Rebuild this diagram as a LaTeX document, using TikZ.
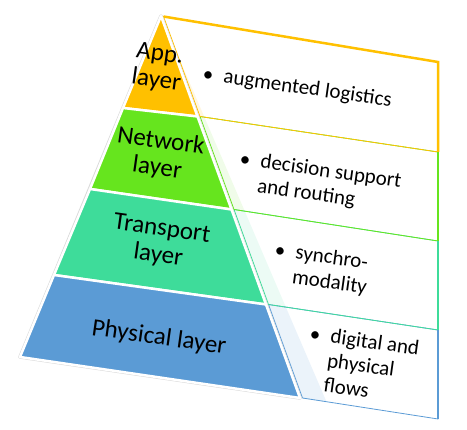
\documentclass[tikz,border=0pt]{standalone}
\usepackage{fontspec}
\setmainfont{Carlito}
\definecolor{appcol}{HTML}{FFC000}
\definecolor{netcol}{HTML}{66E51E}
\definecolor{trncol}{HTML}{3EDC9A}
\definecolor{phycol}{HTML}{5B9BD5}

\begin{document}
\begin{tikzpicture}[x=1pt,y=-1pt]
        \tikzstyle{layer} = [draw=white, line width=2.5pt, line join=round]
        \tikzstyle{box} = [line width=0.8pt, line join=round]
        \tikzstyle{edge} = [line width=2.5pt]
        \tikzstyle{lbl} = [rotate=-8, align=center, inner sep=0pt, font=\fontsize{25}{27}\selectfont]
        \tikzstyle{item} = [rotate=-8, anchor=base west, inner sep=0pt, font=\fontsize{21}{24.5}\selectfont]

        \useasboundingbox (0,0) rectangle (467,430);

        % side face of the pyramid
        \fill[appcol!12] (161,16) -- (197.5,116.5) -- (204.6,117.5) -- cycle;
        \fill[netcol!10] (197.5,116.5) -- (231.5,209.5) -- (244.9,211.5) -- (204.6,117.5) -- cycle;
        \fill[trncol!10] (231.5,209.5) -- (266,304.5) -- (286,307.5) -- (244.9,211.5) -- cycle;
        \fill[phycol!12] (266,304.5) -- (300,398) -- (326.6,402) -- (286,307.5) -- cycle;

        % text boxes
        \draw[box, draw=phycol] (268.5,304.5) -- (438,330) -- (438,419) -- (302.5,398) -- cycle;
        \draw[box, draw=trncol] (234,209.5) -- (438,241) -- (438,330) -- (268.5,304.5) -- cycle;
        \draw[box, draw=netcol] (200,116.5) -- (438,152) -- (438,241) -- (234,209.5) -- cycle;
        \draw[box, draw=appcol] (163.5,16.5) -- (438,62) -- (438,152) -- (200,116.5) -- cycle;

        \draw[edge, draw=appcol] (163.5,16.5) -- (438,62) -- (438,152);
        \draw[edge, draw=netcol] (438,152) -- (438,241);
        \draw[edge, draw=trncol] (438,241) -- (438,330);
        \draw[edge, draw=phycol] (438,330) -- (438,419);

        % front face of the pyramid
        \draw[gray!30, line width=3.5pt, line join=round] (161,16) -- (20,357) -- (300,398) -- cycle;
        \draw[layer, fill=appcol] (161,16) -- (197.5,116.5) -- (123,108) -- cycle;
        \draw[layer, fill=netcol] (123,108) -- (197.5,116.5) -- (231.5,209.5) -- (90,189) -- cycle;
        \draw[layer, fill=trncol] (90,189) -- (231.5,209.5) -- (266,304.5) -- (54,275) -- cycle;
        \draw[layer, fill=phycol] (54,275) -- (266,304.5) -- (300,398) -- (20,357) -- cycle;

        \node[lbl] (applbl) at (158,68) {App.\\layer};
        \node[lbl] (netlbl) at (159,155) {Network\\layer};
        \node[lbl] (trnlbl) at (160,243) {Transport\\layer};
        \node[lbl] (phylbl) at (159,338) {Physical layer};

        \node[item] (appitem) at (202,80) {\begin{tabular}[t]{@{}l@{\hspace{0.5em}}l@{}}\textbullet & augmented logistics\end{tabular}};
        \node[item] (netitem) at (239,165) {\begin{tabular}[t]{@{}l@{\hspace{0.5em}}l@{}}\textbullet & decision support\\ & and routing\end{tabular}};
        \node[item] (trnitem) at (274,256) {\begin{tabular}[t]{@{}l@{\hspace{0.5em}}l@{}}\textbullet & synchro-\\ & modality\end{tabular}};
        \node[item] (phyitem) at (309,340) {\begin{tabular}[t]{@{}l@{\hspace{0.5em}}l@{}}\textbullet & digital and\\ & physical\\ & flows\end{tabular}};

    \end{tikzpicture}
\end{document}
